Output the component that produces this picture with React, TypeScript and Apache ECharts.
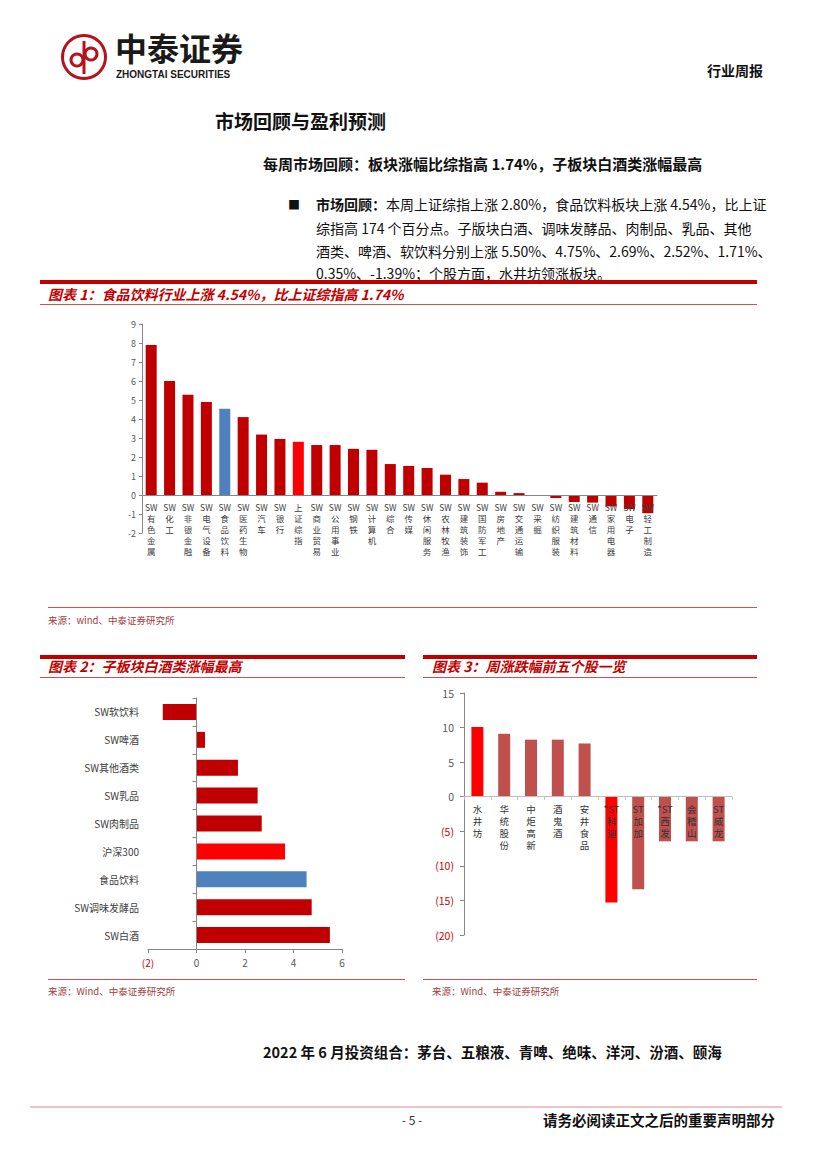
import React, { useEffect, useRef } from 'react';
import * as echarts from 'echarts';

// ---------- data ----------
const sectorNames = ['SW有色金属', 'SW化工', 'SW非银金融', 'SW电气设备', 'SW食品饮料', 'SW医药生物', 'SW汽车', 'SW银行', '上证综指', 'SW商业贸易', 'SW公用事业', 'SW钢铁', 'SW计算机', 'SW综合', 'SW传媒', 'SW休闲服务', 'SW农林牧渔', 'SW建筑装饰', 'SW国防军工', 'SW房地产', 'SW交通运输', 'SW采掘', 'SW纺织服装', 'SW建筑材料', 'SW通信', 'SW家用电器', 'SW电子', 'SW轻工制造'];
const sectorChanges = [7.9, 6.0, 5.27, 4.9, 4.54, 4.1, 3.18, 2.95, 2.8, 2.63, 2.63, 2.43, 2.38, 1.63, 1.53, 1.42, 1.07, 0.84, 0.65, 0.17, 0.1, 0.0, -0.16, -0.37, -0.4, -0.6, -0.74, -0.96];
const sectorAxisMin = -2;
const sectorAxisMax = 9;

const subNames = ['SW软饮料', 'SW啤酒', 'SW其他酒类', 'SW乳品', 'SW肉制品', '沪深300', '食品饮料', 'SW调味发酵品', 'SW白酒'];
const subChanges = [-1.39, 0.35, 1.71, 2.52, 2.69, 3.65, 4.54, 4.75, 5.5];

const stockNames = ['水井坊', '华统股份', '中炬高新', '酒鬼酒', '安井食品', '*ST科迪', 'ST加加', '*ST西发', '会稽山', 'ST威龙'];
const stockChanges = [10.1, 9.1, 8.25, 8.25, 7.7, -15.3, -13.4, -6.45, -6.45, -6.45];
const stockAxisMin = -20;
const stockAxisMax = 15;

const paragraphLines = [
  '{b|市场回顾：}本周上证综指上涨 2.80%，食品饮料板块上涨 4.54%，比上证',
  '综指高 174 个百分点。子版块白酒、调味发酵品、肉制品、乳品、其他',
  '酒类、啤酒、软饮料分别上涨 5.50%、4.75%、2.69%、2.52%、1.71%、',
  '0.35%、-1.39%；个股方面，水井坊领涨板块。',
];

// ---------- styles ----------
const FONT = '"Noto Sans CJK SC", "Noto Sans", sans-serif';
const DARK_RED = '#C00000';
const BLUE = '#4F81BD';
const RED = '#FF0000';
const BRICK = '#C0504D';
const TITLE_RED = '#C00000';

const G1 = { left: 142, top: 324, width: 515, height: 209 };
const G2 = { left: 148, top: 698, width: 194, height: 251 };
const G3 = { left: 464, top: 693, width: 268, height: 242 };

function vertical(name: string) {
  const m = name.match(/^(\*?ST|SW)(.*)$/);
  if (m) return [m[1], ...m[2].split('')].join('\n');
  return name.split('').join('\n');
}

function txt(text: string, x: number, y: number, o: any = {}) {
  const font = `${o.italic ? 'italic ' : ''}${o.weight || 'normal'} ${o.size || 12}px ${o.family || FONT}`;
  return {
    type: 'text',
    x,
    y,
    silent: true,
    style: {
      text,
      fill: o.fill || '#000',
      font,
      textAlign: o.align || 'left',
      textVerticalAlign: 'middle',
      rich: o.rich,
    },
  };
}

function rect(x: number, y: number, w: number, h: number, fill: string) {
  return { type: 'rect', silent: true, shape: { x, y, width: w, height: h }, style: { fill } };
}

export default function App() {
  const ref = useRef<HTMLDivElement>(null);

  useEffect(() => {
    if (!ref.current) return;
    const chart = echarts.init(ref.current, undefined, { renderer: 'svg' });

    const graphic: any[] = [];
    // logo
    graphic.push({ type: 'ring', silent: true, shape: { cx: 84, cy: 57, r: 23, r0: 20 }, style: { fill: '#B5121B' } });
    graphic.push(rect(82.5, 41, 3, 33, '#B5121B'));
    graphic.push({ type: 'circle', silent: true, shape: { cx: 77, cy: 60, r: 6 }, style: { fill: 'none', stroke: '#B5121B', lineWidth: 3 } });
    graphic.push({ type: 'circle', silent: true, shape: { cx: 91, cy: 54, r: 6 }, style: { fill: 'none', stroke: '#B5121B', lineWidth: 3 } });
    graphic.push(txt('中泰证券', 115, 47, { size: 32, weight: 'bold', fill: '#1a1a1a' }));
    graphic.push(txt('ZHONGTAI SECURITIES', 116, 74, { size: 10, weight: 'bold', fill: '#1a1a1a', family: '"Liberation Sans", Arial, sans-serif' }));
    graphic.push(txt('行业周报', 707, 70, { size: 14, weight: 'bold', fill: '#111' }));

    // headings
    graphic.push(txt('市场回顾与盈利预测', 215, 120, { size: 19, weight: 'bold', fill: '#111' }));
    graphic.push(txt('每周市场回顾：板块涨幅比综指高 1.74%，子板块白酒类涨幅最高', 263, 163, { size: 15, weight: 'bold', fill: '#111' }));
    graphic.push(txt('■', 288, 204, { size: 12, fill: '#111' }));
    const paraYs = [204, 228, 251, 273];
    paragraphLines.forEach((line, i) => {
      graphic.push(txt(line, 316, paraYs[i], {
        size: 14, fill: '#111',
        rich: { b: { font: `bold 14px ${FONT}`, fill: '#111' } },
      }));
    });

    // figure 1 frame
    graphic.push(rect(40, 280, 717, 4, DARK_RED));
    graphic.push(txt('图表 1：食品饮料行业上涨 4.54%，比上证综指高 1.74%', 48, 294, { size: 14, weight: 'bold', italic: true, fill: TITLE_RED }));
    graphic.push(rect(40, 304, 717, 1, '#D05050'));
    graphic.push(rect(48, 607, 709, 1, '#D05050'));
    graphic.push(txt('来源：wind、中泰证券研究所', 48, 620, { size: 9.5, fill: '#A04040' }));

    // figure 2 & 3 frames
    graphic.push(rect(40, 655, 365, 4, DARK_RED));
    graphic.push(rect(423, 655, 334, 4, DARK_RED));
    graphic.push(txt('图表 2：子板块白酒类涨幅最高', 48, 666, { size: 14, weight: 'bold', italic: true, fill: TITLE_RED }));
    graphic.push(txt('图表 3：周涨跌幅前五个股一览', 432, 666, { size: 14, weight: 'bold', italic: true, fill: TITLE_RED }));
    graphic.push(rect(40, 677, 365, 1, '#D05050'));
    graphic.push(rect(423, 677, 334, 1, '#D05050'));
    graphic.push(rect(48, 979, 357, 1, '#D05050'));
    graphic.push(rect(423, 979, 334, 1, '#D05050'));
    graphic.push(txt('来源：Wind、中泰证券研究所', 48, 991, { size: 9.5, fill: '#A04040' }));
    graphic.push(txt('来源：Wind、中泰证券研究所', 432, 991, { size: 9.5, fill: '#A04040' }));

    // footer
    graphic.push(txt('2022 年 6 月投资组合：茅台、五粮液、青啤、绝味、洋河、汾酒、颐海', 263, 1051, { size: 14.5, weight: 'bold', fill: '#111' }));
    graphic.push(rect(30, 1106, 752, 2, '#EBC5C5'));
    graphic.push(txt('- 5 -', 412, 1119, { size: 12, fill: '#333', align: 'center' }));
    graphic.push(txt('请务必阅读正文之后的重要声明部分', 775, 1119, { size: 14.5, weight: 'bold', fill: '#111', align: 'right' }));

    const negColor = (v: number) => (v < 0 ? '#CC0000' : '#595959');
    const paren = (v: number) => (v < 0 ? `(${-v})` : `${v}`);

    // place category axes on the zero line (line + labels)
    const off1 = -G1.height * (0 - sectorAxisMin) / (sectorAxisMax - sectorAxisMin);
    const off3 = -G3.height * (0 - stockAxisMin) / (stockAxisMax - stockAxisMin);

    const option: any = {
      animation: false,
      backgroundColor: '#fff',
      textStyle: { fontFamily: FONT },
      graphic,
      grid: [G1, G2, G3],
      xAxis: [
        {
          type: 'category', gridIndex: 0, data: sectorNames, z: 5, offset: off1,
          axisLine: { onZero: false, lineStyle: { color: '#868686' } },
          axisTick: { show: false },
          axisLabel: { interval: 0, margin: 6, fontSize: 8.5, lineHeight: 11, color: '#404040', formatter: (v: string) => vertical(v) },
        },
        {
          type: 'value', gridIndex: 1, min: -2, max: 6, interval: 2,
          splitLine: { show: false },
          axisLine: { show: true, onZero: false, lineStyle: { color: '#868686' } },
          axisTick: { show: true, length: 4, lineStyle: { color: '#868686' } },
          axisLabel: { margin: 8, fontSize: 10, formatter: paren, color: negColor },
        },
        {
          type: 'category', gridIndex: 2, data: stockNames, z: 5, offset: off3,
          axisLine: { onZero: false, lineStyle: { color: '#BFBFBF' } },
          axisTick: { show: true, length: 3, lineStyle: { color: '#BFBFBF' } },
          axisLabel: { interval: 0, margin: 6, fontSize: 9.5, lineHeight: 12, color: '#333', formatter: (v: string) => vertical(v) },
        },
      ],
      yAxis: [
        {
          type: 'value', gridIndex: 0, min: sectorAxisMin, max: sectorAxisMax, interval: 1,
          splitLine: { show: false },
          axisLine: { show: true, lineStyle: { color: '#868686' } },
          axisTick: { show: true, length: 3, lineStyle: { color: '#868686' } },
          axisLabel: { margin: 6, fontSize: 9, color: '#595959' },
        },
        {
          type: 'category', gridIndex: 1, data: subNames, inverse: true, z: 5,
          axisLine: { lineStyle: { color: '#868686' } },
          axisTick: { show: true, length: 4, lineStyle: { color: '#868686' } },
          axisLabel: { margin: 9, fontSize: 10, color: '#404040' },
        },
        {
          type: 'value', gridIndex: 2, min: stockAxisMin, max: stockAxisMax, interval: 5,
          splitLine: { show: false },
          axisLine: { show: true, lineStyle: { color: '#868686' } },
          axisTick: { show: true, length: 4, lineStyle: { color: '#868686' } },
          axisLabel: { margin: 10, fontSize: 10.5, formatter: paren, color: negColor },
        },
      ],
      series: [
        {
          type: 'bar', xAxisIndex: 0, yAxisIndex: 0, barWidth: 11,
          data: sectorChanges.map((v, i) => ({
            value: v,
            itemStyle: { color: sectorNames[i] === 'SW食品饮料' ? BLUE : sectorNames[i] === '上证综指' ? RED : DARK_RED },
          })),
        },
        {
          type: 'bar', xAxisIndex: 1, yAxisIndex: 1, barWidth: 16,
          data: subChanges.map((v, i) => ({
            value: v,
            itemStyle: { color: subNames[i] === '食品饮料' ? BLUE : subNames[i] === '沪深300' ? RED : DARK_RED },
          })),
        },
        {
          type: 'bar', xAxisIndex: 2, yAxisIndex: 2, barWidth: 12,
          data: stockChanges.map((v) => {
            const isMax = v === Math.max(...stockChanges);
            const isMin = v === Math.min(...stockChanges);
            return { value: v, itemStyle: { color: isMax || isMin ? RED : BRICK } };
          }),
        },
      ],
    };

    chart.setOption(option);
    return () => chart.dispose();
  }, []);

  return (
    <div
      ref={ref}
      style={{ position: 'absolute', left: 0, top: 0, width: 827, height: 1169, background: '#fff' }}
    />
  );
}
